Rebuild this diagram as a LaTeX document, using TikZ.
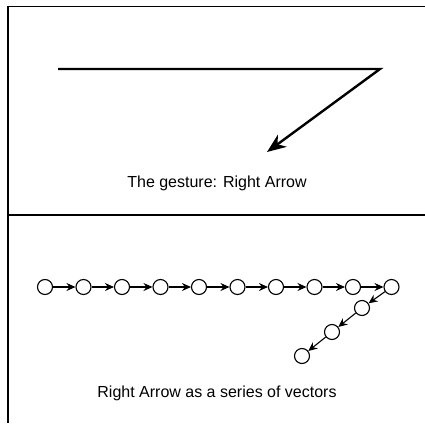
\documentclass[tikz,border=0pt]{standalone}
\usepackage{fontspec}
\setmainfont{Liberation Sans}
\usetikzlibrary{arrows.meta}
\begin{document}
\begin{tikzpicture}[x=1pt,y=-1pt,
  frame/.style={line width=1.6pt},
  dot/.style={circle,draw,line width=1.1pt,minimum size=15pt,inner sep=0pt},
  vec/.style={line width=1.1pt,-{Stealth[length=9pt,width=8pt,inset=3pt]}},
  captext/.style={font=\fontsize{16}{19}\selectfont}]
\useasboundingbox (0,0) rectangle (425,423);
\coordinate (tl) at (8,6.5);
\coordinate (tr) at (425,6.5);
\coordinate (bl) at (8,423);
\coordinate (ml) at (8,215);
\coordinate (mr) at (425,215);
\draw[frame] (tr) -- (tl) -- (bl);
\draw[frame] (ml) -- (mr);
% gesture
\coordinate (g0) at (58,69);
\coordinate (g1) at (380,69);
\coordinate (g2) at (267,152);
\draw[line width=2.4pt,line join=miter,-{Stealth[length=19pt,width=15pt,inset=6pt]}] (g0) -- (g1) -- (g2);
\node[captext] (t1) at (217,183) {The gesture: Right Arrow};
% vectors
\foreach \i in {0,...,9} {
  \node[dot] (c\i) at (45+38.5*\i,287) {};
}
\node[dot] (d1) at (362,308) {};
\node[dot] (d2) at (332,332) {};
\node[dot] (d3) at (302,356) {};
\foreach \i [evaluate=\i as \j using int(\i+1)] in {0,...,8} {
  \draw[vec] (c\i) -- (c\j);
}
\draw[vec] (c9) -- (d1);
\draw[vec] (d1) -- (d2);
\draw[vec] (d2) -- (d3);
\node[captext] (t2) at (217,393) {Right Arrow as a series of vectors};
\end{tikzpicture}
\end{document}
